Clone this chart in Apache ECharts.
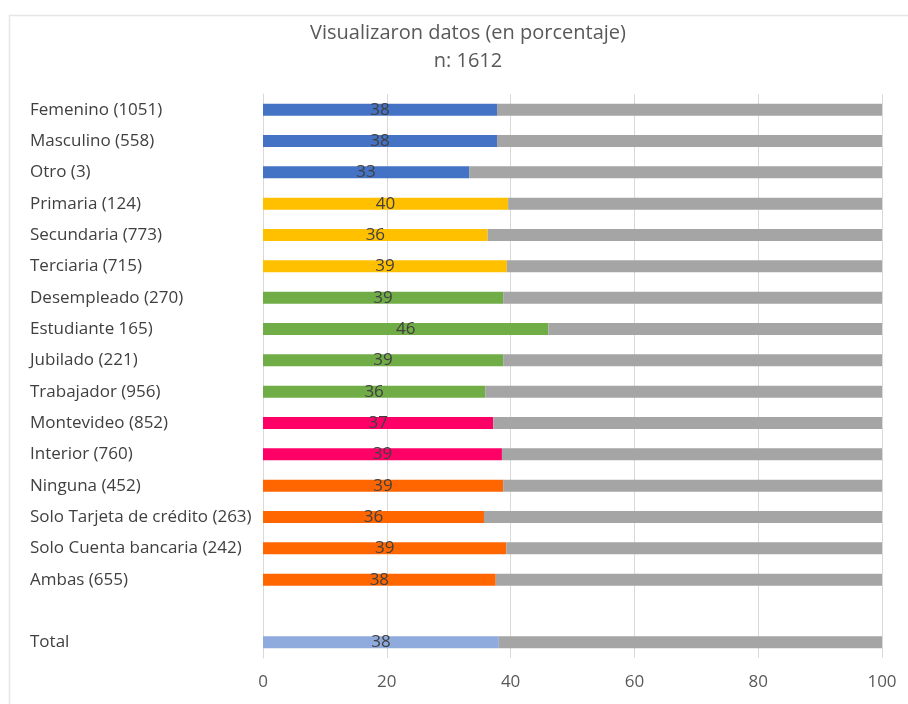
<!DOCTYPE html>
<html>
<head>
<meta charset="utf-8">
<script src="https://cdn.jsdelivr.net/npm/echarts@6/dist/echarts.min.js"></script>
<style>
  html, body { margin: 0; padding: 0; background: #fff; }
  #main { width: 908px; height: 704px; }
</style>
</head>
<body>
<div id="main"></div>
<script>
var categories = [
  'Femenino (1051)', 'Masculino (558)', 'Otro (3)',
  'Primaria (124)', 'Secundaria (773)', 'Terciaria (715)',
  'Desempleado (270)', 'Estudiante 165)', 'Jubilado (221)', 'Trabajador (956)',
  'Montevideo (852)', 'Interior (760)',
  'Ninguna (452)', 'Solo Tarjeta de crédito (263)', 'Solo Cuenta bancaria (242)', 'Ambas (655)',
  '', 'Total'
];
var visualizaron = [37.8, 37.8, 33.3, 39.6, 36.3, 39.4, 38.8, 46.1, 38.8, 35.9, 37.2, 38.6, 38.8, 35.7, 39.3, 37.6, null, 38.1];
var barColors = [
  '#4472C4', '#4472C4', '#4472C4',
  '#FFC000', '#FFC000', '#FFC000',
  '#70AD47', '#70AD47', '#70AD47', '#70AD47',
  '#FF0066', '#FF0066',
  '#FF6600', '#FF6600', '#FF6600', '#FF6600',
  '#FFFFFF', '#8FAADC'
];
var xTicks = [0, 20, 40, 60, 80, 100];

var resto = visualizaron.map(v => v == null ? null : 100 - v);

var chartDom = document.getElementById('main');
var myChart = echarts.init(chartDom, null, { renderer: 'canvas' });
var font = 'Open Sans';

var option = {
  animation: false,
  textStyle: { fontFamily: font },
  title: {
    text: 'Visualizaron datos (en porcentaje)',
    subtext: 'n: 1612',
    left: 463,
    textAlign: 'center',
    top: 18,
    itemGap: 8,
    textStyle: { fontFamily: font, fontSize: 20, fontWeight: 'normal', color: '#595959' },
    subtextStyle: { fontFamily: font, fontSize: 20, color: '#595959' }
  },
  graphic: [{
    type: 'rect',
    shape: { x: 9.5, y: 15.5, width: 920, height: 720 },
    style: { fill: 'none', stroke: '#e6e6e6', lineWidth: 1.5 },
    silent: true
  }],
  grid: { left: 263, right: 26, top: 94, bottom: 46, containLabel: false },
  xAxis: {
    type: 'value',
    min: 0,
    max: 100,
    interval: 20,
    axisLine: { show: false },
    axisTick: { show: false },
    splitLine: { show: true, lineStyle: { color: '#d9d9d9', width: 1 } },
    axisLabel: {
      color: '#595959', fontSize: 17, fontFamily: font, margin: 16,
      formatter: v => xTicks.indexOf(v) >= 0 ? String(v) : ''
    }
  },
  yAxis: {
    type: 'category',
    data: categories,
    inverse: true,
    axisLine: { show: true, lineStyle: { color: '#d9d9d9' } },
    axisTick: { show: false },
    axisLabel: {
      color: '#404040', fontSize: 17, fontFamily: font,
      align: 'left', margin: 233
    }
  },
  series: [
    {
      name: 'Visualizaron',
      type: 'bar',
      stack: 'total',
      barWidth: 12,
      data: visualizaron.map((v, i) => ({ value: v, itemStyle: { color: barColors[i] } })),
      label: {
        show: true,
        position: 'inside',
        color: '#404040',
        fontSize: 17,
        fontFamily: font,
        formatter: p => p.value == null ? '' : Math.round(p.value)
      }
    },
    {
      name: 'Resto',
      type: 'bar',
      stack: 'total',
      barWidth: 12,
      itemStyle: { color: '#A5A5A5' },
      data: resto
    }
  ]
};

myChart.setOption(option);
</script>
</body>
</html>
